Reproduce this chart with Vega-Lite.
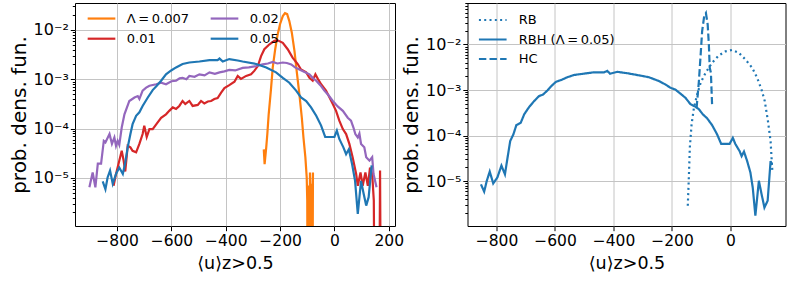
{
  "$schema": "https://vega.github.io/schema/vega-lite/v6.json",
  "background": "white",
  "padding": {"left": 8, "top": 2, "right": 2, "bottom": 2},
  "spacing": 72.5,
  "bounds": "flush",
  "config": {
    "font": "DejaVu Sans",
    "view": {"stroke": "black", "strokeWidth": 1},
    "axis": {
      "domain": false,
      "grid": true,
      "gridColor": "#c4c4c4",
      "gridWidth": 1,
      "tickColor": "black",
      "tickWidth": 1,
      "labelColor": "black",
      "labelFont": "DejaVu Sans",
      "labelFlush": false,
      "labelOverlap": false,
      "labelBound": false,
      "titleColor": "black",
      "titleFont": "DejaVu Sans",
      "titleFontWeight": "normal"
    },
    "axisX": {"labelFontSize": 15.5, "titleFontSize": 17.5},
    "axisY": {"titleFontSize": 20},
    "legend": {
      "labelFont": "DejaVu Sans",
      "labelFontSize": 13,
      "labelColor": "black"
    }
  },
  "resolve": {
    "scale": {"x": "independent", "y": "independent"},
    "legend": {"color": "independent", "strokeDash": "independent"}
  },
  "datasets": {
    "left": [
      {"s":"Λ\u2009=\u20090.007","x":-260,"y":3.8e-5},{"s":"Λ\u2009=\u20090.007","x":-257,"y":1.9e-5},{"s":"Λ\u2009=\u20090.007","x":-251,"y":4.17e-5},{"s":"Λ\u2009=\u20090.007","x":-247,"y":7.76e-5},{"s":"Λ\u2009=\u20090.007","x":-242,"y":1.95e-4},{"s":"Λ\u2009=\u20090.007","x":-234,"y":5.89e-4},{"s":"Λ\u2009=\u20090.007","x":-227,"y":1.74e-3},{"s":"Λ\u2009=\u20090.007","x":-218,"y":4.07e-3},{"s":"Λ\u2009=\u20090.007","x":-209,"y":8.13e-3},{"s":"Λ\u2009=\u20090.007","x":-200,"y":1.32e-2},{"s":"Λ\u2009=\u20090.007","x":-190,"y":1.91e-2},{"s":"Λ\u2009=\u20090.007","x":-182,"y":2.19e-2},{"s":"Λ\u2009=\u20090.007","x":-174,"y":2.09e-2},{"s":"Λ\u2009=\u20090.007","x":-166,"y":1.51e-2},{"s":"Λ\u2009=\u20090.007","x":-157,"y":8.91e-3},{"s":"Λ\u2009=\u20090.007","x":-147,"y":3.72e-3},{"s":"Λ\u2009=\u20090.007","x":-139,"y":1.48e-3},{"s":"Λ\u2009=\u20090.007","x":-129,"y":5.01e-4},{"s":"Λ\u2009=\u20090.007","x":-120,"y":1.66e-4},{"s":"Λ\u2009=\u20090.007","x":-114,"y":6.61e-5},{"s":"Λ\u2009=\u20090.007","x":-107,"y":2.63e-5},{"s":"Λ\u2009=\u20090.007","x":-102,"y":1.02e-5},{"s":"Λ\u2009=\u20090.007","x":-100,"y":3.47e-6},{"s":"Λ\u2009=\u20090.007","x":-98.5,"y":1e-8},{"s":"Λ\u2009=\u20090.007","x":-97,"y":6e-6},{"s":"Λ\u2009=\u20090.007","x":-95.5,"y":1e-8},{"s":"Λ\u2009=\u20090.007","x":-94,"y":7e-6},{"s":"Λ\u2009=\u20090.007","x":-92.5,"y":1e-8},{"s":"Λ\u2009=\u20090.007","x":-90,"y":1.29e-5},{"s":"Λ\u2009=\u20090.007","x":-88.5,"y":7.6e-6},{"s":"Λ\u2009=\u20090.007","x":-87,"y":1e-8},{"s":"Λ\u2009=\u20090.007","x":-85.5,"y":7.6e-6},{"s":"Λ\u2009=\u20090.007","x":-84,"y":1e-8},{"s":"Λ\u2009=\u20090.007","x":-82.5,"y":7.6e-6},{"s":"Λ\u2009=\u20090.007","x":-81,"y":1e-8},{"s":"Λ\u2009=\u20090.007","x":-79,"y":1.29e-5},

      {"s":"0.01","x":-813,"y":6.92e-6},{"s":"0.01","x":-804,"y":1.2e-5},{"s":"0.01","x":-792,"y":2.24e-5},{"s":"0.01","x":-783,"y":3.55e-5},{"s":"0.01","x":-776,"y":2.24e-5},{"s":"0.01","x":-770,"y":1.35e-5},{"s":"0.01","x":-761,"y":4.47e-5},{"s":"0.01","x":-751,"y":4.17e-5},{"s":"0.01","x":-743,"y":3.55e-5},{"s":"0.01","x":-730,"y":3.31e-5},{"s":"0.01","x":-718,"y":4.9e-5},{"s":"0.01","x":-706,"y":7.76e-5},{"s":"0.01","x":-700,"y":1.15e-4},{"s":"0.01","x":-691,"y":6.76e-5},{"s":"0.01","x":-681,"y":9.77e-5},{"s":"0.01","x":-669,"y":9.77e-5},{"s":"0.01","x":-654,"y":1.26e-4},{"s":"0.01","x":-638,"y":1.66e-4},{"s":"0.01","x":-620,"y":1.95e-4},{"s":"0.01","x":-608,"y":2.29e-4},{"s":"0.01","x":-595,"y":2.69e-4},{"s":"0.01","x":-583,"y":2.51e-4},{"s":"0.01","x":-571,"y":2.88e-4},{"s":"0.01","x":-559,"y":3.63e-4},{"s":"0.01","x":-549,"y":3.16e-4},{"s":"0.01","x":-534,"y":3.63e-4},{"s":"0.01","x":-522,"y":2.88e-4},{"s":"0.01","x":-503,"y":3.02e-4},{"s":"0.01","x":-491,"y":3.63e-4},{"s":"0.01","x":-479,"y":3.24e-4},{"s":"0.01","x":-466,"y":3.55e-4},{"s":"0.01","x":-454,"y":3.63e-4},{"s":"0.01","x":-442,"y":3.98e-4},{"s":"0.01","x":-430,"y":4.17e-4},{"s":"0.01","x":-417,"y":5.37e-4},{"s":"0.01","x":-405,"y":6.61e-4},{"s":"0.01","x":-387,"y":7.59e-4},{"s":"0.01","x":-368,"y":8.91e-4},{"s":"0.01","x":-356,"y":1.17e-3},{"s":"0.01","x":-344,"y":1.02e-3},{"s":"0.01","x":-325,"y":1.17e-3},{"s":"0.01","x":-307,"y":1.26e-3},{"s":"0.01","x":-295,"y":1.48e-3},{"s":"0.01","x":-282,"y":1.86e-3},{"s":"0.01","x":-270,"y":2.95e-3},{"s":"0.01","x":-258,"y":4.07e-3},{"s":"0.01","x":-239,"y":5.13e-3},{"s":"0.01","x":-221,"y":6.03e-3},{"s":"0.01","x":-209,"y":6.17e-3},{"s":"0.01","x":-190,"y":5.5e-3},{"s":"0.01","x":-172,"y":4.07e-3},{"s":"0.01","x":-154,"y":2.75e-3},{"s":"0.01","x":-135,"y":2.04e-3},{"s":"0.01","x":-123,"y":1.58e-3},{"s":"0.01","x":-104,"y":1.38e-3},{"s":"0.01","x":-92,"y":1.07e-3},{"s":"0.01","x":-80,"y":9.33e-4},{"s":"0.01","x":-70,"y":1.26e-3},{"s":"0.01","x":-61,"y":1.02e-3},{"s":"0.01","x":-49,"y":7.94e-4},{"s":"0.01","x":-31,"y":5.89e-4},{"s":"0.01","x":-18,"y":4.27e-4},{"s":"0.01","x":-6,"y":3.16e-4},{"s":"0.01","x":6,"y":2.29e-4},{"s":"0.01","x":18,"y":1.45e-4},{"s":"0.01","x":31,"y":9.77e-5},{"s":"0.01","x":43,"y":7.76e-5},{"s":"0.01","x":55,"y":4.9e-5},{"s":"0.01","x":67,"y":2.63e-5},{"s":"0.01","x":80,"y":1.2e-5},{"s":"0.01","x":86,"y":6.92e-6},{"s":"0.01","x":96,"y":1.29e-5},{"s":"0.01","x":104,"y":6.92e-6},{"s":"0.01","x":114,"y":1.29e-5},{"s":"0.01","x":123,"y":6.92e-6},{"s":"0.01","x":131,"y":1.62e-5},{"s":"0.01","x":139,"y":1.2e-5},{"s":"0.01","x":145,"y":3.47e-6},{"s":"0.01","x":148,"y":1e-8},{"s":"0.01","x":165,"y":1e-8},{"s":"0.01","x":168,"y":1.41e-5},{"s":"0.01","x":171,"y":1e-8},

      {"s":"0.02","x":-902,"y":6.46e-6},{"s":"0.02","x":-890,"y":1.29e-5},{"s":"0.02","x":-880,"y":6.46e-6},{"s":"0.02","x":-871,"y":1.95e-5},{"s":"0.02","x":-859,"y":1.95e-5},{"s":"0.02","x":-849,"y":5.62e-5},{"s":"0.02","x":-843,"y":5.25e-5},{"s":"0.02","x":-828,"y":7.76e-5},{"s":"0.02","x":-819,"y":4.9e-5},{"s":"0.02","x":-810,"y":6.61e-5},{"s":"0.02","x":-804,"y":4.47e-5},{"s":"0.02","x":-798,"y":5.62e-5},{"s":"0.02","x":-792,"y":4.68e-5},{"s":"0.02","x":-783,"y":1.05e-4},{"s":"0.02","x":-773,"y":1.95e-4},{"s":"0.02","x":-755,"y":3.63e-4},{"s":"0.02","x":-736,"y":4.27e-4},{"s":"0.02","x":-724,"y":4.57e-4},{"s":"0.02","x":-718,"y":3.98e-4},{"s":"0.02","x":-706,"y":5.89e-4},{"s":"0.02","x":-693,"y":6.76e-4},{"s":"0.02","x":-681,"y":7.41e-4},{"s":"0.02","x":-656,"y":7.94e-4},{"s":"0.02","x":-638,"y":8.51e-4},{"s":"0.02","x":-620,"y":7.94e-4},{"s":"0.02","x":-600,"y":9.12e-4},{"s":"0.02","x":-583,"y":9.33e-4},{"s":"0.02","x":-570,"y":1.05e-3},{"s":"0.02","x":-559,"y":1.07e-3},{"s":"0.02","x":-545,"y":1.0e-3},{"s":"0.02","x":-534,"y":1.17e-3},{"s":"0.02","x":-515,"y":1.12e-3},{"s":"0.02","x":-497,"y":1.26e-3},{"s":"0.02","x":-478,"y":1.2e-3},{"s":"0.02","x":-460,"y":1.38e-3},{"s":"0.02","x":-440,"y":1.29e-3},{"s":"0.02","x":-423,"y":1.38e-3},{"s":"0.02","x":-405,"y":1.45e-3},{"s":"0.02","x":-387,"y":1.55e-3},{"s":"0.02","x":-365,"y":1.51e-3},{"s":"0.02","x":-338,"y":1.7e-3},{"s":"0.02","x":-315,"y":1.74e-3},{"s":"0.02","x":-288,"y":1.86e-3},{"s":"0.02","x":-264,"y":2.0e-3},{"s":"0.02","x":-245,"y":2.09e-3},{"s":"0.02","x":-227,"y":2.24e-3},{"s":"0.02","x":-210,"y":2.09e-3},{"s":"0.02","x":-190,"y":2.19e-3},{"s":"0.02","x":-175,"y":2.14e-3},{"s":"0.02","x":-159,"y":2.0e-3},{"s":"0.02","x":-145,"y":1.74e-3},{"s":"0.02","x":-129,"y":1.58e-3},{"s":"0.02","x":-110,"y":1.41e-3},{"s":"0.02","x":-92,"y":1.26e-3},{"s":"0.02","x":-80,"y":1.07e-3},{"s":"0.02","x":-67,"y":9.33e-4},{"s":"0.02","x":-52,"y":7.59e-4},{"s":"0.02","x":-37,"y":5.89e-4},{"s":"0.02","x":-21,"y":4.68e-4},{"s":"0.02","x":-6,"y":3.63e-4},{"s":"0.02","x":12,"y":2.82e-4},{"s":"0.02","x":31,"y":2.29e-4},{"s":"0.02","x":49,"y":1.66e-4},{"s":"0.02","x":61,"y":1.45e-4},{"s":"0.02","x":70,"y":1.05e-4},{"s":"0.02","x":77,"y":7.76e-5},{"s":"0.02","x":86,"y":6.61e-5},{"s":"0.02","x":92,"y":7.94e-5},{"s":"0.02","x":98,"y":4.9e-5},{"s":"0.02","x":110,"y":4.17e-5},{"s":"0.02","x":117,"y":2.63e-5},{"s":"0.02","x":129,"y":2.24e-5},{"s":"0.02","x":139,"y":2.63e-5},{"s":"0.02","x":144,"y":1.2e-5},{"s":"0.02","x":155,"y":6.46e-6},

      {"s":"0.05","x":-853,"y":8.51e-6},{"s":"0.05","x":-843,"y":5.89e-6},{"s":"0.05","x":-835,"y":1.02e-5},{"s":"0.05","x":-826,"y":1.41e-5},{"s":"0.05","x":-816,"y":7.59e-6},{"s":"0.05","x":-804,"y":1.2e-5},{"s":"0.05","x":-792,"y":1.62e-5},{"s":"0.05","x":-779,"y":1.2e-5},{"s":"0.05","x":-771,"y":1.91e-5},{"s":"0.05","x":-761,"y":4.17e-5},{"s":"0.05","x":-751,"y":7.76e-5},{"s":"0.05","x":-743,"y":1.23e-4},{"s":"0.05","x":-730,"y":1.82e-4},{"s":"0.05","x":-718,"y":2.14e-4},{"s":"0.05","x":-706,"y":2.88e-4},{"s":"0.05","x":-687,"y":4.27e-4},{"s":"0.05","x":-669,"y":6.03e-4},{"s":"0.05","x":-654,"y":7.41e-4},{"s":"0.05","x":-638,"y":9.33e-4},{"s":"0.05","x":-620,"y":1.26e-3},{"s":"0.05","x":-601,"y":1.51e-3},{"s":"0.05","x":-583,"y":1.74e-3},{"s":"0.05","x":-559,"y":2.04e-3},{"s":"0.05","x":-534,"y":2.19e-3},{"s":"0.05","x":-497,"y":2.29e-3},{"s":"0.05","x":-460,"y":2.45e-3},{"s":"0.05","x":-430,"y":2.45e-3},{"s":"0.05","x":-423,"y":2.63e-3},{"s":"0.05","x":-411,"y":2.29e-3},{"s":"0.05","x":-387,"y":2.57e-3},{"s":"0.05","x":-356,"y":2.4e-3},{"s":"0.05","x":-338,"y":2.29e-3},{"s":"0.05","x":-288,"y":2.04e-3},{"s":"0.05","x":-251,"y":1.74e-3},{"s":"0.05","x":-215,"y":1.38e-3},{"s":"0.05","x":-190,"y":1.07e-3},{"s":"0.05","x":-166,"y":8.51e-4},{"s":"0.05","x":-141,"y":5.89e-4},{"s":"0.05","x":-123,"y":4.27e-4},{"s":"0.05","x":-104,"y":3.63e-4},{"s":"0.05","x":-86,"y":2.69e-4},{"s":"0.05","x":-67,"y":1.82e-4},{"s":"0.05","x":-49,"y":1.15e-4},{"s":"0.05","x":-34,"y":6.76e-5},{"s":"0.05","x":-18,"y":6.76e-5},{"s":"0.05","x":0,"y":6.76e-5},{"s":"0.05","x":9,"y":9.12e-5},{"s":"0.05","x":18,"y":6.17e-5},{"s":"0.05","x":33,"y":4.17e-5},{"s":"0.05","x":43,"y":3.02e-5},{"s":"0.05","x":53,"y":3.8e-5},{"s":"0.05","x":65,"y":1.91e-5},{"s":"0.05","x":76,"y":8.71e-6},{"s":"0.05","x":86,"y":1.86e-6},{"s":"0.05","x":98,"y":8.71e-6},{"s":"0.05","x":108,"y":4.68e-6},{"s":"0.05","x":117,"y":2.75e-6},{"s":"0.05","x":126,"y":4.07e-6},{"s":"0.05","x":137,"y":1.8e-5}
    ],
    "right": [
      {"s":"RBH (Λ\u2009=\u20090.05)","x":-853,"y":8.51e-6},{"s":"RBH (Λ\u2009=\u20090.05)","x":-842,"y":5.89e-6},{"s":"RBH (Λ\u2009=\u20090.05)","x":-833,"y":1.02e-5},{"s":"RBH (Λ\u2009=\u20090.05)","x":-823,"y":1.62e-5},{"s":"RBH (Λ\u2009=\u20090.05)","x":-811,"y":8.91e-6},{"s":"RBH (Λ\u2009=\u20090.05)","x":-797,"y":1.2e-5},{"s":"RBH (Λ\u2009=\u20090.05)","x":-783,"y":2.19e-5},{"s":"RBH (Λ\u2009=\u20090.05)","x":-771,"y":1.41e-5},{"s":"RBH (Λ\u2009=\u20090.05)","x":-762,"y":3.31e-5},{"s":"RBH (Λ\u2009=\u20090.05)","x":-753,"y":7.59e-5},{"s":"RBH (Λ\u2009=\u20090.05)","x":-742,"y":1.07e-4},{"s":"RBH (Λ\u2009=\u20090.05)","x":-732,"y":1.7e-4},{"s":"RBH (Λ\u2009=\u20090.05)","x":-717,"y":1.91e-4},{"s":"RBH (Λ\u2009=\u20090.05)","x":-705,"y":2.95e-4},{"s":"RBH (Λ\u2009=\u20090.05)","x":-688,"y":4.27e-4},{"s":"RBH (Λ\u2009=\u20090.05)","x":-671,"y":5.75e-4},{"s":"RBH (Λ\u2009=\u20090.05)","x":-654,"y":7.41e-4},{"s":"RBH (Λ\u2009=\u20090.05)","x":-641,"y":7.94e-4},{"s":"RBH (Λ\u2009=\u20090.05)","x":-626,"y":9.77e-4},{"s":"RBH (Λ\u2009=\u20090.05)","x":-612,"y":1.23e-3},{"s":"RBH (Λ\u2009=\u20090.05)","x":-597,"y":1.51e-3},{"s":"RBH (Λ\u2009=\u20090.05)","x":-575,"y":1.7e-3},{"s":"RBH (Λ\u2009=\u20090.05)","x":-558,"y":1.91e-3},{"s":"RBH (Λ\u2009=\u20090.05)","x":-535,"y":2.14e-3},{"s":"RBH (Λ\u2009=\u20090.05)","x":-501,"y":2.29e-3},{"s":"RBH (Λ\u2009=\u20090.05)","x":-467,"y":2.45e-3},{"s":"RBH (Λ\u2009=\u20090.05)","x":-432,"y":2.45e-3},{"s":"RBH (Λ\u2009=\u20090.05)","x":-421,"y":2.63e-3},{"s":"RBH (Λ\u2009=\u20090.05)","x":-412,"y":2.29e-3},{"s":"RBH (Λ\u2009=\u20090.05)","x":-387,"y":2.51e-3},{"s":"RBH (Λ\u2009=\u20090.05)","x":-353,"y":2.34e-3},{"s":"RBH (Λ\u2009=\u20090.05)","x":-336,"y":2.24e-3},{"s":"RBH (Λ\u2009=\u20090.05)","x":-302,"y":2.04e-3},{"s":"RBH (Λ\u2009=\u20090.05)","x":-279,"y":1.91e-3},{"s":"RBH (Λ\u2009=\u20090.05)","x":-245,"y":1.58e-3},{"s":"RBH (Λ\u2009=\u20090.05)","x":-222,"y":1.32e-3},{"s":"RBH (Λ\u2009=\u20090.05)","x":-205,"y":1.12e-3},{"s":"RBH (Λ\u2009=\u20090.05)","x":-188,"y":1.02e-3},{"s":"RBH (Λ\u2009=\u20090.05)","x":-171,"y":8.32e-4},{"s":"RBH (Λ\u2009=\u20090.05)","x":-154,"y":6.76e-4},{"s":"RBH (Λ\u2009=\u20090.05)","x":-137,"y":4.9e-4},{"s":"RBH (Λ\u2009=\u20090.05)","x":-119,"y":4.27e-4},{"s":"RBH (Λ\u2009=\u20090.05)","x":-108,"y":3.8e-4},{"s":"RBH (Λ\u2009=\u20090.05)","x":-95,"y":2.95e-4},{"s":"RBH (Λ\u2009=\u20090.05)","x":-80,"y":2.4e-4},{"s":"RBH (Λ\u2009=\u20090.05)","x":-63,"y":1.7e-4},{"s":"RBH (Λ\u2009=\u20090.05)","x":-46,"y":1.07e-4},{"s":"RBH (Λ\u2009=\u20090.05)","x":-32,"y":6.61e-5},{"s":"RBH (Λ\u2009=\u20090.05)","x":-17,"y":6.61e-5},{"s":"RBH (Λ\u2009=\u20090.05)","x":-3,"y":6.61e-5},{"s":"RBH (Λ\u2009=\u20090.05)","x":8,"y":8.91e-5},{"s":"RBH (Λ\u2009=\u20090.05)","x":17,"y":6.46e-5},{"s":"RBH (Λ\u2009=\u20090.05)","x":31,"y":4.57e-5},{"s":"RBH (Λ\u2009=\u20090.05)","x":38,"y":3.55e-5},{"s":"RBH (Λ\u2009=\u20090.05)","x":46,"y":4.47e-5},{"s":"RBH (Λ\u2009=\u20090.05)","x":57,"y":2.75e-5},{"s":"RBH (Λ\u2009=\u20090.05)","x":68,"y":1.55e-5},{"s":"RBH (Λ\u2009=\u20090.05)","x":76,"y":7.24e-6},{"s":"RBH (Λ\u2009=\u20090.05)","x":85,"y":1.74e-6},{"s":"RBH (Λ\u2009=\u20090.05)","x":97,"y":1.02e-5},{"s":"RBH (Λ\u2009=\u20090.05)","x":106,"y":5.25e-6},{"s":"RBH (Λ\u2009=\u20090.05)","x":116,"y":2.63e-6},{"s":"RBH (Λ\u2009=\u20090.05)","x":127,"y":3.72e-6},{"s":"RBH (Λ\u2009=\u20090.05)","x":137,"y":2.75e-5},{"s":"RBH (Λ\u2009=\u20090.05)","x":142,"y":2.24e-5},

      {"s":"HC","x":-116,"y":3.98e-4},{"s":"HC","x":-108,"y":1.58e-3},{"s":"HC","x":-102,"y":6.03e-3},{"s":"HC","x":-97,"y":1.95e-2},{"s":"HC","x":-90,"y":4.17e-2},{"s":"HC","x":-84,"y":4.9e-2},{"s":"HC","x":-78,"y":2.75e-2},{"s":"HC","x":-74,"y":1.0e-2},{"s":"HC","x":-71,"y":3.09e-3},{"s":"HC","x":-67,"y":2.4e-3},{"s":"HC","x":-63,"y":4.9e-4},

      {"s":"RB","x":-146,"y":2.88e-6},{"s":"RB","x":-142,"y":1.41e-5},{"s":"RB","x":-139,"y":5.5e-5},{"s":"RB","x":-133,"y":1.78e-4},{"s":"RB","x":-125,"y":4.07e-4},{"s":"RB","x":-114,"y":7.94e-4},{"s":"RB","x":-102,"y":1.45e-3},{"s":"RB","x":-85,"y":2.4e-3},{"s":"RB","x":-63,"y":3.98e-3},{"s":"RB","x":-40,"y":5.75e-3},{"s":"RB","x":-17,"y":7.08e-3},{"s":"RB","x":5,"y":7.59e-3},{"s":"RB","x":28,"y":6.61e-3},{"s":"RB","x":51,"y":4.68e-3},{"s":"RB","x":74,"y":3.09e-3},{"s":"RB","x":91,"y":1.86e-3},{"s":"RB","x":106,"y":1.02e-3},{"s":"RB","x":117,"y":5.75e-4},{"s":"RB","x":128,"y":2.09e-4},{"s":"RB","x":137,"y":7.59e-5},{"s":"RB","x":141,"y":2.75e-5},{"s":"RB","x":143,"y":1.7e-5}
    ]
  },
  "hconcat": [
    {
      "width": 320,
      "height": 223,
      "data": {"name": "left"},
      "mark": {"type": "line", "strokeWidth": 2.2, "clip": true},
      "encoding": {
        "x": {
          "field": "x", "type": "quantitative",
          "scale": {"domain": [-955, 223], "nice": false, "zero": false},
          "axis": {"values": [-800, -600, -400, -200, 0, 200], "labelExpr": "(datum.value < 0 ? '\u2212' : '') + abs(datum.value)", "title": "⟨u⟩z>0.5", "tickSize": 4.7, "labelPadding": 3, "titlePadding": 5}
        },
        "y": {
          "field": "y", "type": "quantitative",
          "scale": {"type": "log", "domain": [1.06e-6, 0.0352], "nice": false},
          "axis": {
            "values": [2e-6,3e-6,4e-6,5e-6,6e-6,7e-6,8e-6,9e-6,1e-5,2e-5,3e-5,4e-5,5e-5,6e-5,7e-5,8e-5,9e-5,1e-4,2e-4,3e-4,4e-4,5e-4,6e-4,7e-4,8e-4,9e-4,1e-3,2e-3,3e-3,4e-3,5e-3,6e-3,7e-3,8e-3,9e-3,1e-2,2e-2,3e-2],
            "title": "prob. dens. fun.",
            "titlePadding": 4,
            "labelPadding": 2,
            "labelExpr": "abs(log(datum.value)/LN10 - round(log(datum.value)/LN10)) < 0.001 ? '10⁻' + ['⁰','¹','²','³','⁴','⁵','⁶','⁷'][-round(log(datum.value)/LN10)] : ''",
            "labelFontSize": {"condition": {"test": "abs(log(datum.value)/LN10 - round(log(datum.value)/LN10)) < 0.001", "value": 16}, "value": 0},
            "tickSize": {"condition": {"test": "abs(log(datum.value)/LN10 - round(log(datum.value)/LN10)) < 0.001", "value": 4.7}, "value": 2.7},
            "gridOpacity": {"condition": {"test": "abs(log(datum.value)/LN10 - round(log(datum.value)/LN10)) < 0.001", "value": 1}, "value": 0}
          }
        },
        "color": {
          "field": "s", "type": "nominal",
          "scale": {"domain": ["Λ\u2009=\u20090.007", "0.01", "0.02", "0.05"], "range": ["#ff7f0e", "#d62728", "#9467bd", "#1f77b4"]},
          "legend": {"title": null, "orient": "none", "legendX": 20, "legendY": 8.8, "columns": 2, "symbolType": "M-3,0H3", "symbolSize": 85, "symbolStrokeWidth": 2.2, "columnPadding": 17, "rowPadding": 6.4, "labelOffset": 18.8, "padding": 0}
        }
      }
    },
    {
      "width": 318,
      "height": 223,
      "data": {"name": "right"},
      "mark": {"type": "line", "strokeWidth": 2.2, "clip": true, "color": "#1f77b4"},
      "encoding": {
        "x": {
          "field": "x", "type": "quantitative",
          "scale": {"domain": [-899, 188], "nice": false, "zero": false},
          "axis": {"values": [-800, -600, -400, -200, 0], "labelExpr": "(datum.value < 0 ? '\u2212' : '') + abs(datum.value)", "title": "⟨u⟩z>0.5", "tickSize": 4.7, "labelPadding": 3, "titlePadding": 5}
        },
        "y": {
          "field": "y", "type": "quantitative",
          "scale": {"type": "log", "domain": [1.035e-6, 0.0815], "nice": false},
          "axis": {
            "values": [2e-6,3e-6,4e-6,5e-6,6e-6,7e-6,8e-6,9e-6,1e-5,2e-5,3e-5,4e-5,5e-5,6e-5,7e-5,8e-5,9e-5,1e-4,2e-4,3e-4,4e-4,5e-4,6e-4,7e-4,8e-4,9e-4,1e-3,2e-3,3e-3,4e-3,5e-3,6e-3,7e-3,8e-3,9e-3,1e-2,2e-2,3e-2,4e-2,5e-2,6e-2,7e-2,8e-2],
            "title": "prob. dens. fun.",
            "titlePadding": 4,
            "labelPadding": 2,
            "labelExpr": "abs(log(datum.value)/LN10 - round(log(datum.value)/LN10)) < 0.001 ? '10⁻' + ['⁰','¹','²','³','⁴','⁵','⁶','⁷'][-round(log(datum.value)/LN10)] : ''",
            "labelFontSize": {"condition": {"test": "abs(log(datum.value)/LN10 - round(log(datum.value)/LN10)) < 0.001", "value": 16}, "value": 0},
            "tickSize": {"condition": {"test": "abs(log(datum.value)/LN10 - round(log(datum.value)/LN10)) < 0.001", "value": 4.7}, "value": 2.7},
            "gridOpacity": {"condition": {"test": "abs(log(datum.value)/LN10 - round(log(datum.value)/LN10)) < 0.001", "value": 1}, "value": 0}
          }
        },
        "strokeDash": {
          "field": "s", "type": "nominal",
          "scale": {"domain": ["RB", "RBH (Λ\u2009=\u20090.05)", "HC"], "range": [[2, 3.3], [1, 0], [7.4, 3.2]]},
          "legend": {"title": null, "orient": "none", "legendX": 18.75, "legendY": 10.5, "symbolType": "M-3,0H3", "symbolSize": 85, "symbolStrokeWidth": 2.2, "symbolStrokeColor": "#1f77b4", "rowPadding": 5.5, "labelOffset": 19.5, "padding": 0}
        }
      }
    }
  ]
}
